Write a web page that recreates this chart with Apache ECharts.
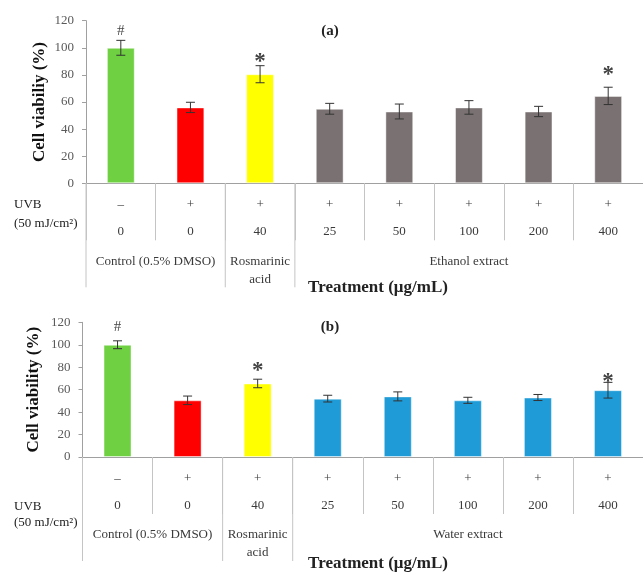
<!DOCTYPE html>
<html><head><meta charset="utf-8">
<script src="https://cdn.jsdelivr.net/npm/echarts@6/dist/echarts.min.js"></script>
<style>html,body{margin:0;padding:0;background:#fff}#c{width:643px;height:572px}</style>
</head><body><div id="c"></div>
<script>
// ---- data ----
const categories = ['ctrl', 'uvb', 'ra40', 'd25', 'd50', 'd100', 'd200', 'd400'];
const uvbRow = ['–', '+', '+', '+', '+', '+', '+', '+'];
const doseRow = ['0', '0', '40', '25', '50', '100', '200', '400'];
const meanA = [100, 56, 80.5, 55, 53, 56, 53, 64.5];
const errA = [5.5, 3.8, 6.3, 4, 5.5, 5, 3.8, 6.4];
const meanB = [100, 50.5, 65.5, 52, 54, 50.5, 53, 59.5];
const errB = [3.5, 3.8, 3.8, 3, 4, 2.7, 2.7, 7];
const marksA = [[0, '#', 112.5], [2, '*', 92.4], [7, '*', 82.8]];
const marksB = [[0, '#', 115.5], [2, '*', 80.4], [7, '*', 70.1]];
const groupsA = [[0, 1, 'Control (0.5% DMSO)'], [2, 2, 'Rosmarinic\nacid'], [3, 7, 'Ethanol extract']];
const groupsB = [[0, 1, 'Control (0.5% DMSO)'], [2, 2, 'Rosmarinic\nacid'], [3, 7, 'Water extract']];
const colorsA = ['#6fd042', '#ff0000', '#ffff00', '#7a7272', '#7a7272', '#7a7272', '#7a7272', '#7a7272'];
const colorsB = ['#6fd042', '#ff0000', '#ffff00', '#1f9bd7', '#1f9bd7', '#1f9bd7', '#1f9bd7', '#1f9bd7'];
const yMin = 0, yMax = 120, yStep = 20;

const SERIF = '"Liberation Serif", "Times New Roman", serif';
const chart = echarts.init(document.getElementById('c'), null, {renderer: 'canvas'});

function xAxisCfg(gi) {
  return {
    type: 'category', gridIndex: gi, data: categories,
    axisLine: {lineStyle: {color: '#a0a0a0', width: 1}},
    axisTick: {show: true, interval: 0, alignWithLabel: false, length: 57, lineStyle: {color: '#c4c4c4'}},
    axisLabel: {
      interval: 0, margin: 8,
      formatter: (v, i) => '{s|' + uvbRow[i] + '}\n{n|' + doseRow[i] + '}',
      rich: {
        s: {fontFamily: SERIF, fontSize: 13, color: '#3a3a3a', lineHeight: 27},
        n: {fontFamily: SERIF, fontSize: 13, color: '#3a3a3a', lineHeight: 27}
      }
    }
  };
}
function yAxisCfg(gi, name, gap) {
  return {
    type: 'value', gridIndex: gi, min: yMin, max: yMax, interval: yStep,
    name: name, nameLocation: 'middle', nameGap: gap, nameRotate: 90, nameMoveOverlap: false,
    nameTextStyle: {fontFamily: SERIF, fontSize: 17, fontWeight: 'bold', color: '#111'},
    axisLine: {show: true, lineStyle: {color: '#a0a0a0'}},
    axisTick: {show: true, length: 4, lineStyle: {color: '#a0a0a0'}},
    splitLine: {show: false},
    axisLabel: {fontFamily: SERIF, fontSize: 13, color: '#595959', margin: 12}
  };
}
function barSeries(gi, means, colors) {
  return {
    type: 'bar', xAxisIndex: gi, yAxisIndex: gi, barWidth: '40%',
    data: means.map((m, i) => ({value: m, itemStyle: {color: colors[i]}})),
    itemStyle: {borderColor: 'rgba(255,255,255,0.45)', borderWidth: 1},
    silent: true
  };
}
function errSeries(gi, means, errs) {
  return {
    type: 'custom', xAxisIndex: gi, yAxisIndex: gi, z: 5, silent: true,
    data: means.map((m, i) => [i, m - errs[i], m + errs[i]]),
    encode: {x: 0, y: [1, 2]},
    renderItem: (params, api) => {
      const i = api.value(0);
      const lo = api.coord([i, api.value(1)]);
      const hi = api.coord([i, api.value(2)]);
      const hw = 4.5;
      const st = {stroke: '#333', lineWidth: 1};
      return {type: 'group', children: [
        {type: 'line', shape: {x1: lo[0], y1: lo[1], x2: hi[0], y2: hi[1]}, style: st},
        {type: 'line', shape: {x1: lo[0] - hw, y1: lo[1], x2: lo[0] + hw, y2: lo[1]}, style: st},
        {type: 'line', shape: {x1: hi[0] - hw, y1: hi[1], x2: hi[0] + hw, y2: hi[1]}, style: st}
      ]};
    }
  };
}
function markSeries(gi, marks) {
  return {
    type: 'scatter', xAxisIndex: gi, yAxisIndex: gi, symbolSize: 1, z: 6, silent: true,
    itemStyle: {color: 'rgba(0,0,0,0)'},
    data: marks.map(m => ({
      value: [m[0], m[2]],
      label: {
        show: true, position: 'inside', formatter: m[1],
        fontFamily: SERIF, color: '#111',
        fontSize: m[1] === '*' ? 23 : 15,
        fontWeight: m[1] === '*' ? 'bold' : 'normal',
        offset: m[1] === '*' ? [0, 4] : [0, 0]
      }
    }))
  };
}
function groupSeries(gi, groups) {
  return {
    type: 'custom', xAxisIndex: gi, yAxisIndex: gi, clip: false, silent: true, z: 3,
    data: groups.map(g => [g[0], 0, g[1]]),
    encode: {x: 0, y: 1},
    renderItem: (params, api) => {
      const s = api.value(0), e = api.value(2);
      const p0 = api.coord([s, 0]);
      const p1 = api.coord([e, 0]);
      const bw = api.size([1, 0])[0];
      const left = p0[0] - bw / 2, right = p1[0] + bw / 2;
      return {type: 'group', children: [
        {type: 'line', shape: {x1: left, y1: p0[1], x2: left, y2: p0[1] + 104},
         style: {stroke: '#c4c4c4', lineWidth: 1}},
        {type: 'text', style: {
          text: groups[params.dataIndex][2], x: (left + right) / 2, y: p0[1] + 69,
          align: 'center', verticalAlign: 'top', lineHeight: 18,
          fontFamily: SERIF, fontSize: 13, fill: '#3a3a3a'}}
      ]};
    }
  };
}

const txt = (text, x, y, size, weight, align) => ({
  type: 'text', x: x, y: y,
  style: {text: text, fontFamily: SERIF, fontSize: size, fontWeight: weight || 'normal',
    fill: '#222', align: align || 'left', verticalAlign: 'middle'}
});

chart.setOption({
  animation: false,
  backgroundColor: '#fff',
  grid: [
    {left: 86, top: 20.7, width: 562.4, height: 162.6},
    {left: 82.5, top: 322.3, width: 567, height: 134.7}
  ],
  xAxis: [xAxisCfg(0), xAxisCfg(1)],
  yAxis: [yAxisCfg(0, 'Cell viabiliy (%)', 38), yAxisCfg(1, 'Cell viability (%)', 40)],
  series: [
    barSeries(0, meanA, colorsA), errSeries(0, meanA, errA), markSeries(0, marksA), groupSeries(0, groupsA),
    barSeries(1, meanB, colorsB), errSeries(1, meanB, errB), markSeries(1, marksB), groupSeries(1, groupsB)
  ],
  graphic: [
    txt('(a)', 330, 30.7, 15, 'bold', 'center'),
    txt('(b)', 330, 326.7, 15, 'bold', 'center'),
    txt('UVB', 14, 205, 13),
    txt('(50 mJ/cm²)', 14, 224, 13),
    txt('UVB', 14, 506.7, 13),
    txt('(50 mJ/cm²)', 14, 522.7, 13),
    txt('Treatment (μg/mL)', 378, 287.3, 17, 'bold', 'center'),
    txt('Treatment (μg/mL)', 378, 564, 17, 'bold', 'center')
  ]
});
</script>
</body></html>
